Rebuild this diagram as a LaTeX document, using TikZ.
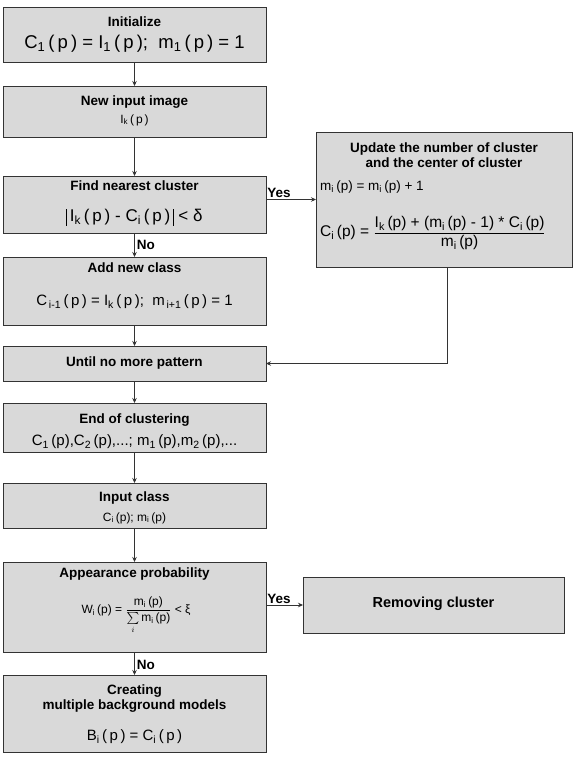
\documentclass[tikz,border=0pt]{standalone}
\usepackage{amsmath}
\usepackage{fontspec}
\setmainfont{Liberation Sans}
\usetikzlibrary{arrows.meta,calc}
\newcommand{\sbs}[1]{\textsubscript{#1}}
\newcommand{\tallbar}{\rule[-4pt]{0.7pt}{17pt}}
\begin{document}
\begin{tikzpicture}[x=1pt,y=-1pt,
  box/.style={draw=black!80, fill=black!15, line width=0.8pt, inner sep=0pt, outer sep=0pt, minimum width=263pt},
  ttl/.style={font=\fontsize{13.5}{15}\selectfont\bfseries, inner sep=0pt, align=center},
  fml/.style={font=\fontsize{15}{17}\selectfont, inner sep=0pt},
  sfml/.style={font=\fontsize{12}{14}\selectfont, inner sep=0pt},
  lbl/.style={font=\fontsize{13.5}{15}\selectfont\bfseries, inner sep=1pt},
  arr/.style={draw=black!80, line width=0.8pt, -{Stealth[length=5pt,width=4.5pt]}}]
\useasboundingbox[fill=white] (0,0) rectangle (574,763);

% left column boxes
\node[box, minimum height=55pt] (init) at (134.5,34.5) {};
\node[box, minimum height=51pt] (newin) at (134.5,111.5) {};
\node[box, minimum height=57pt] (find) at (134.5,204.5) {};
\node[box, minimum height=68pt] (add) at (134.5,291) {};
\node[box, minimum height=35pt] (until) at (134.5,363.5) {};
\node[box, minimum height=49pt] (endc) at (134.5,427.5) {};
\node[box, minimum height=45pt] (incl) at (134.5,505.5) {};
\node[box, minimum height=90pt] (appear) at (134.5,607) {};
\node[box, minimum height=77pt] (create) at (134.5,713.5) {};
% right boxes
\node[box, minimum width=256pt, minimum height=135pt] (update) at (444,199.5) {};
\node[box, minimum width=261pt, minimum height=56pt] (remove) at (433.5,605) {};

% texts
\node[ttl] (t1) at (134.5,22) {Initialize};
\node[fml, font=\fontsize{18.5}{20}\selectfont] (f1) at (134.5,44) {C\sbs{1}\,(\,p\,) = I\sbs{1}\,(\,p\,);\;\;m\sbs{1}\,(\,p\,) = 1};

\node[ttl] (t2) at (134.5,102) {New input image};
\node[sfml] (f2) at (134.5,120) {I\sbs{k}\,(\,p\,)};

\node[ttl] (t3) at (134.5,186) {Find nearest cluster};
\node[fml, font=\fontsize{17}{19}\selectfont] (f3) at (134.5,217) {\tallbar\,I\sbs{k}\,(\,p\,) - C\sbs{i}\,(\,p\,)\,\tallbar\ < δ};

\node[ttl] (t4) at (134.5,268) {Add new class};
\node[fml] (f4) at (134.5,302) {C\sbs{\,i-1}\,(\,p\,) = I\sbs{k}\,(\,p\,);\;\;m\sbs{\,i+1}\,(\,p\,) = 1};

\node[ttl] (t5) at (134.5,363) {Until no more pattern};

\node[ttl] (t6) at (134.5,420) {End of clustering};
\node[fml] (f6) at (134.5,442) {C\sbs{1}\,(p),C\sbs{2}\,(p),...; m\sbs{1}\,(p),m\sbs{2}\,(p),...};

\node[ttl] (t7) at (134.5,498) {Input class};
\node[sfml] (f7) at (134.5,518) {C\sbs{i}\,(p); m\sbs{i}\,(p)};

\node[ttl] (t8) at (134.5,574) {Appearance probability};
\node[sfml, font=\fontsize{12}{14}\selectfont] (f8) at (136,615) {W\sbs{i}\,(p) = $\dfrac{\hbox{m\sbs{i}\,(p)}}{\sum\limits_{i}\hbox{m\sbs{i}\,(p)}}$ < ξ};

\node[ttl] (t9) at (134.5,699) {Creating\\multiple background models};
\node[fml] (f9) at (134.5,737) {B\sbs{i}\,(\,p\,) = C\sbs{i}\,(\,p\,)};

\node[ttl] (t10) at (444,155) {Update the number of cluster\\and the center of cluster};
\node[fml, font=\fontsize{13.5}{15}\selectfont, anchor=west] (f10) at (320,187) {m\sbs{i}\,(p) = m\sbs{i}\,(p) + 1};
\node[fml, font=\fontsize{15.5}{17}\selectfont, anchor=west] (f11) at (320,233) {C\sbs{i}\,(p) = $\dfrac{\hbox{I\sbs{k}\,(p) + (m\sbs{i}\,(p) - 1) * C\sbs{i}\,(p)}}{\hbox{m\sbs{i}\,(p)}}$};

\node[ttl, font=\fontsize{14.5}{16}\selectfont\bfseries] (t11) at (433.5,604) {Removing cluster};

% connectors
\draw[arr] (init) -- (newin);
\draw[arr] (newin) -- (find);
\draw[arr] (find) -- node[lbl, anchor=west, xshift=1pt] (no1) {No} (add);
\draw[arr] (add) -- (until);
\draw[arr] (until) -- (endc);
\draw[arr] (endc) -- (incl);
\draw[arr] (incl) -- (appear);
\draw[arr] (appear) -- node[lbl, anchor=west, xshift=1pt, pos=0.55] (no2) {No} (create);
\draw[arr] (find.east |- update.west) -- node[lbl, anchor=south west, pos=0] (yes1) {Yes} (update.west);
\draw[arr] (appear.east |- remove.west) -- node[lbl, anchor=south west, pos=0] (yes2) {Yes} (remove.west);
\draw[arr] ([xshift=3pt]update.south) |- (until.east);
\end{tikzpicture}
\end{document}
